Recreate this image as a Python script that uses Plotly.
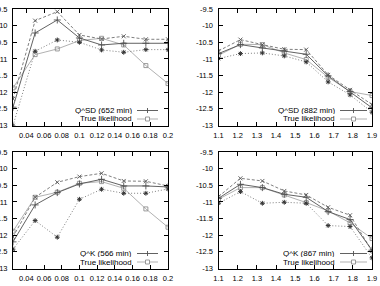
import plotly.graph_objects as go

# ---- data ----
x_left = [0.025, 0.05, 0.075, 0.1, 0.125, 0.15, 0.175, 0.2]
x_right = [1.1, 1.2143, 1.3286, 1.4429, 1.5571, 1.6714, 1.7857, 1.9]

q1 = [-12.45, -10.22, -9.83, -10.37, -10.58, -10.53, -10.53, -10.53]
t1 = [-11.87, -10.87, -10.70, -10.45, -10.38, -10.58, -11.20, -11.74]
a1 = [-12.20, -9.85, -9.58, -10.28, -10.40, -10.32, -10.41, -10.41]
b1 = [-13.00, -10.77, -10.43, -10.50, -10.73, -10.80, -10.72, -10.72]

q2 = [-10.84, -10.57, -10.67, -10.76, -10.86, -11.51, -11.98, -12.47]
t2 = [-10.89, -10.56, -10.57, -10.82, -11.02, -11.55, -11.98, -12.10]
a2 = [-10.76, -10.42, -10.57, -10.71, -10.72, -11.48, -11.93, -12.37]
b2 = [-10.99, -10.84, -10.82, -10.91, -11.09, -11.69, -12.08, -12.60]

q3 = [-12.20, -11.09, -10.72, -10.46, -10.32, -10.52, -10.52, -10.55]
t3 = [-11.88, -10.86, -10.71, -10.44, -10.39, -10.59, -11.21, -11.76]
a3 = [-12.05, -10.86, -10.41, -10.24, -10.14, -10.37, -10.38, -10.52]
b3 = [-12.42, -11.56, -12.06, -10.92, -10.62, -10.74, -10.74, -10.61]

q4 = [-10.89, -10.47, -10.57, -10.77, -10.86, -11.29, -11.53, -12.45]
t4 = [-10.92, -10.57, -10.57, -10.79, -11.02, -11.27, -11.63, -12.10]
a4 = [-10.84, -10.29, -10.37, -10.67, -10.79, -11.16, -11.40, -12.47]
b4 = [-11.04, -10.69, -11.04, -11.01, -11.04, -11.71, -11.74, -12.68]

legend_q = ["Q^SD (652 min)", "Q^SD (882 min)", "Q^K (566 min)", "Q^K (867 min)"]
legend_t = "True likelihood"

y_tickvals = [-9.5, -10, -10.5, -11, -11.5, -12, -12.5, -13]
y_ticktext = ["-9.5", "-10", "-10.5", "-11", "-11.5", "-12", "-12.5", "-13"]
xl_tickvals = [0.04, 0.06, 0.08, 0.1, 0.12, 0.14, 0.16, 0.18, 0.2]
xl_ticktext = ["0.04", "0.06", "0.08", "0.1", "0.12", "0.14", "0.16", "0.18", "0.2"]
xr_tickvals = [1.1, 1.2, 1.3, 1.4, 1.5, 1.6, 1.7, 1.8, 1.9]
xr_ticktext = ["1.1", "1.2", "1.3", "1.4", "1.5", "1.6", "1.7", "1.8", "1.9"]

W, H = 380, 286
FONT = "Liberation Sans, Arial, sans-serif"
FS = 7.5
LFS = 8

panels = [
    (x_left, q1, t1, a1, b1),
    (x_right, q2, t2, a2, b2),
    (x_left, q3, t3, a3, b3),
    (x_right, q4, t4, a4, b4),
]

fig = go.Figure()

for i, (xs, q, t, a, b) in enumerate(panels):
    xa = "x" if i == 0 else f"x{i+1}"
    ya = "y" if i == 0 else f"y{i+1}"
    fig.add_trace(go.Scatter(x=xs, y=t, xaxis=xa, yaxis=ya, mode="lines+markers",
                             line=dict(color="#a8a8a8", width=0.9),
                             marker=dict(symbol="square-open", size=4, color="#909090",
                                         line=dict(width=0.9, color="#909090")),
                             showlegend=False))
    fig.add_trace(go.Scatter(x=xs, y=b, xaxis=xa, yaxis=ya, mode="lines+markers",
                             line=dict(color="#707070", width=0.9, dash="1px,2px"),
                             marker=dict(symbol="asterisk-open", size=4, color="#333333",
                                         line=dict(width=1, color="#333333")),
                             showlegend=False))
    fig.add_trace(go.Scatter(x=xs, y=a, xaxis=xa, yaxis=ya, mode="lines+markers",
                             line=dict(color="#707070", width=0.9, dash="3px,2px"),
                             marker=dict(symbol="x-thin-open", size=4, color="#555555",
                                         line=dict(width=0.9, color="#555555")),
                             showlegend=False))
    fig.add_trace(go.Scatter(x=xs, y=q, xaxis=xa, yaxis=ya, mode="lines+markers",
                             line=dict(color="#505050", width=0.9),
                             marker=dict(symbol="cross-thin-open", size=5, color="#505050",
                                         line=dict(width=0.9, color="#505050")),
                             showlegend=False))

# plot areas in pixels: (left, right, top, bottom)
areas = [(13, 168, 9, 125.5), (218.5, 372, 9, 125.5),
         (13, 168, 152, 268.5), (218.5, 372, 152, 268.5)]

axis_common = dict(showline=True, linecolor="black", linewidth=1, mirror="ticks",
                   ticks="inside", ticklen=4, tickcolor="black", tickwidth=1,
                   showgrid=False, zeroline=False, tickangle=0,
                   tickfont=dict(family=FONT, size=FS, color="black"))

layout = dict(width=W, height=H, margin=dict(l=0, r=0, t=0, b=0),
              paper_bgcolor="white", plot_bgcolor="white", showlegend=False,
              font=dict(family=FONT, size=FS, color="black"))

for i, (l, r, tp, bt) in enumerate(areas):
    sx = "" if i == 0 else str(i + 1)
    left_panel = i in (0, 2)
    layout[f"xaxis{sx}"] = dict(
        domain=[l / W, r / W], anchor=f"y{sx}",
        range=[0.025, 0.2] if left_panel else [1.1, 1.9],
        tickvals=xl_tickvals if left_panel else xr_tickvals,
        ticktext=xl_ticktext if left_panel else xr_ticktext,
        automargin=False, ticklabelstandoff=2, **axis_common)
    layout[f"yaxis{sx}"] = dict(
        domain=[1 - bt / H, 1 - tp / H], anchor=f"x{sx}",
        range=[-13, -9.5], tickvals=y_tickvals, ticktext=y_ticktext,
        automargin=False, ticklabelstandoff=3, **axis_common)

fig.update_layout(**layout)

# manual legends (text left, sample right, like gnuplot)
leg_pos = [(133, 137, 158, 110.5), (336, 340, 367, 110.5),
           (133, 137, 158, 253.5), (336, 340, 367, 253.5)]
shapes = []
annotations = []
for i, (tx, s0, s1, ry) in enumerate(leg_pos):
    for j, (label, col) in enumerate([(legend_q[i], "#505050"), (legend_t, "#a8a8a8")]):
        yy = ry + j * 8.5
        annotations.append(dict(x=tx / W, y=1 - yy / H, xref="paper", yref="paper",
                                text=label, showarrow=False, xanchor="right", yanchor="middle",
                                borderpad=0, height=7,
                                font=dict(family=FONT, size=LFS, color="black")))
        shapes.append(dict(type="line", xref="paper", yref="paper",
                           x0=s0 / W, x1=s1 / W, y0=1 - yy / H, y1=1 - yy / H,
                           line=dict(color=col, width=0.9)))
        mx = (s0 + s1) / 2
        if j == 0:
            shapes.append(dict(type="line", xref="paper", yref="paper",
                               x0=mx / W, x1=mx / W, y0=1 - (yy - 2.5) / H, y1=1 - (yy + 2.5) / H,
                               line=dict(color=col, width=0.9)))
        else:
            shapes.append(dict(type="rect", xref="paper", yref="paper",
                               x0=(mx - 2) / W, x1=(mx + 2) / W,
                               y0=1 - (yy - 2) / H, y1=1 - (yy + 2) / H,
                               fillcolor="white", line=dict(color="#909090", width=0.9)))

fig.update_layout(shapes=shapes, annotations=annotations)
fig.write_html("out.html")
